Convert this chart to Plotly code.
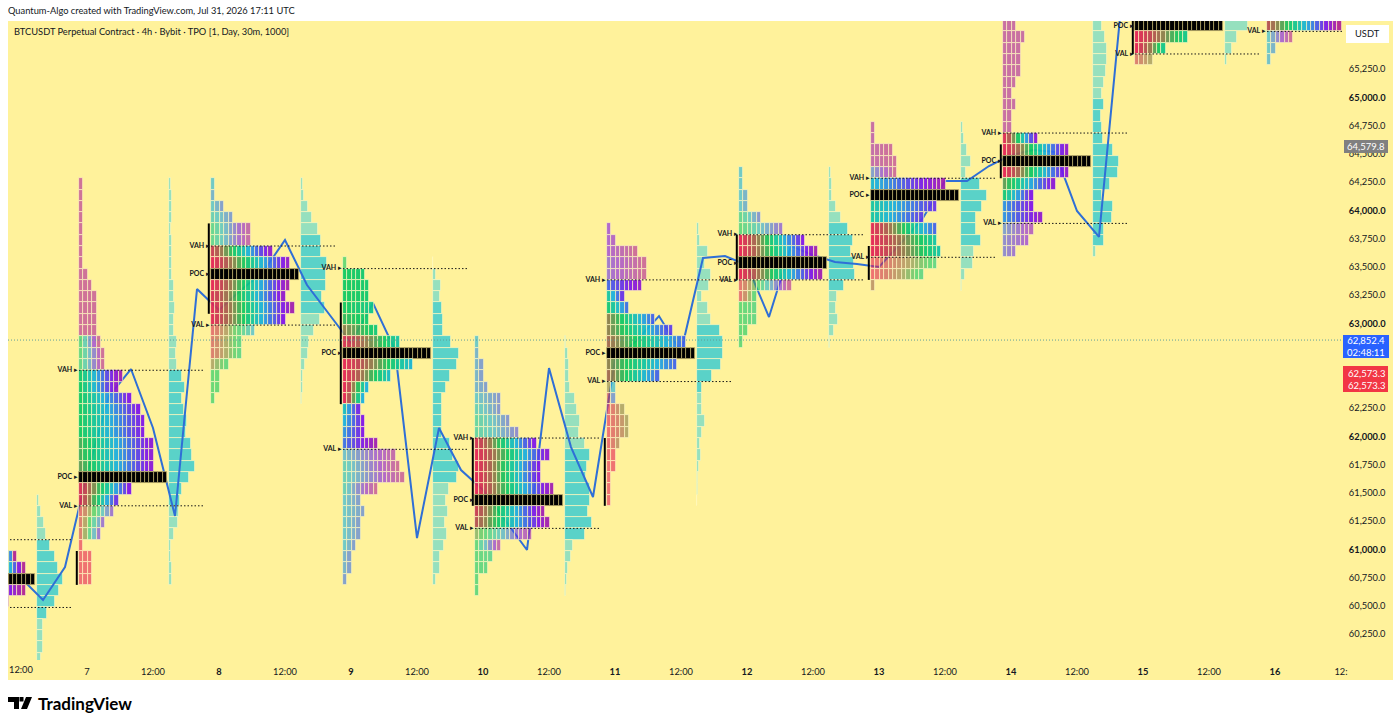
import plotly.graph_objects as go

# Session days and the top row (centre price) of each profile
days = [6, 7, 8, 9, 10, 11, 12, 13, 14, 15, 16]
tops = [61450, 64250, 64250, 63550, 62850, 63850, 64350, 64750, 65650, 65650, 65650]

# TPO counts per row, top to bottom
tpo_06 = [0, 0, 0, 0, 0, 16, 18, 20, 18, 14, 0, 0, 0, 0, 0]
tpo_07 = [1, 1, 1, 1, 1, 1, 1, 1, 2, 3, 4, 4, 4, 4, 5, 6, 6, 10, 9, 12, 14, 15, 15, 17, 17, 17, 20, 12, 9, 8, 6, 5, 1, 3, 3, 3]
tpo_08 = [1, 1, 3, 5, 9, 9, 14, 18, 20, 18, 17, 19, 17, 10, 7, 7, 4, 2, 2, 1]
tpo_09 = [1, 5, 6, 6, 7, 6, 8, 13, 20, 16, 11, 6, 5, 4, 5, 5, 8, 12, 13, 14, 8, 4, 5, 4, 4, 3, 2, 2, 1]
tpo_10 = [1, 1, 2, 2, 3, 6, 6, 8, 10, 14, 17, 15, 15, 18, 20, 16, 17, 13, 6, 4, 3, 1, 1]
tpo_11 = [1, 2, 7, 9, 9, 8, 4, 5, 11, 15, 18, 20, 16, 12, 2, 2, 4, 5, 5, 3, 2, 2, 1, 1, 1]
tpo_12 = [1, 1, 2, 2, 5, 10, 15, 18, 20, 19, 12, 4, 4, 4, 2, 1]
tpo_13 = [1, 1, 5, 6, 6, 17, 20, 15, 12, 15, 15, 16, 15, 12, 1]
tpo_14 = [3, 5, 4, 4, 4, 3, 2, 3, 2, 2, 8, 15, 20, 15, 12, 7, 7, 9, 7, 6, 3]
tpo_15 = [20, 12, 7, 4]
tpo_16 = [17, 6, 2, 1]

# Volume profile per row, same rows as the TPO lists
vol_06 = [1.7, 4, 7.3, 9.3, 13, 17.7, 21.3, 25.7, 21.7, 18.3, 10, 5.7, 5.7, 5.7, 4]
vol_07 = [1.5, 2.5, 2.5, 2.5, 2, 2.5, 2.5, 2.5, 3, 4.5, 5, 6, 4.5, 5, 7.5, 7, 8.3, 12.7, 15.7, 12.7, 15, 18, 17.3, 22, 23, 25.7, 19.7, 13.3, 11.3, 10.3, 9, 5, 2, 2, 3.3, 2.7]
vol_08 = [1.7, 3.3, 6.7, 10.7, 17.3, 20, 20, 26, 25.3, 24.7, 21, 24, 18.7, 12.7, 8.3, 7.3, 4, 2.3, 2, 1]
vol_09 = [0, 3.3, 7.7, 7.3, 9.3, 10, 10, 17.7, 25.7, 24, 16.7, 13, 8.7, 9, 8.7, 8.7, 16.7, 20, 25.7, 24.3, 16, 12.7, 15.3, 12.3, 14.3, 10.7, 7.3, 6.7, 3]
vol_10 = [1, 3, 4, 4, 5, 9.7, 11.7, 15, 14, 19.7, 25, 21.7, 20.7, 25, 25, 23, 27, 20.3, 8.3, 6.3, 3.3, 1.7, 1]
vol_11 = [1.7, 3, 10.7, 7.7, 14.3, 11.7, 5.3, 11, 14.3, 23, 26, 26, 24, 15.3, 5.3, 5.3, 5, 8, 5.3, 3, 4, 2.3, 1.3, 1.3, 0.3]
vol_12 = [2.3, 2.7, 3.3, 6.7, 12, 18.7, 23.7, 21.7, 25.3, 26, 15.3, 8.3, 7.3, 8.7, 5, 1.3]
vol_13 = [1.7, 2.7, 6, 10, 5, 19, 25.7, 21, 15, 14.7, 20, 13.3, 12.3, 4.3, 0.7]
vol_14 = [8.7, 11.7, 14, 14, 13.3, 10.7, 8.7, 11.3, 8.3, 9.3, 9.7, 20.3, 25.7, 25, 16.7, 9.3, 19.7, 19, 11, 11, 3.3]
vol_15 = [23.3, 12, 7.3, 1.7]

# Period shade of the first and last block in each row (0 = session open, 1 = close)
first_06 = [0, 0, 0, 0, 0, -4, -1.27, 0, 0.15, 0.9, 0, 0, 0, 0, 0]
last_06 = [0, 0, 0, 0, 0, 1, 1, 0, 1, 0.9, 0, 0, 0, 0, 0]
first_07 = [1, 1, 1, 1, 1, 1, 1, 1, 1, 1, 1, 1, 1, 1, 0.4, 0.4, 0.42, 0.4, 0.38, 0.38, 0.38, 0.38, 0.38, 0.33, 0.33, 0.3, 0, 0.05, 0.05, 0.05, 0.1, 0.1, 0, 0, 0, 0]
last_07 = [1, 1, 1, 1, 1, 1, 1, 1, 1, 1, 1, 1, 1, 1, 1, 1, 1, 0.95, 0.9, 0.85, 0.85, 0.85, 0.85, 0.88, 0.88, 0.88, 0, 0.85, 0.8, 0.8, 0.8, 0.8, 0, 0, 0, 0]
first_08 = [0.6, 0.65, 0.6, 0.55, 0.45, 0.45, 0.1, 0, 0, 0, 0.05, 0.02, 0.02, 0.05, 0.1, 0.1, 0.25, 0.38, 0.38, 0.38]
last_08 = [0.6, 0.65, 0.7, 0.7, 0.95, 0.95, 0.9, 0.9, 0, 0.95, 0.9, 0.95, 0.85, 0.6, 0.42, 0.42, 0.4, 0.38, 0.38, 0.38]
first_09 = [0.38, 0.38, 0.38, 0.38, 0.38, 0.35, 0.25, 0.05, 0, 0, 0, 0, 0, 0.55, 0.6, 0.65, 0.7, 0.62, 0.55, 0.55, 0.55, 0.6, 0.6, 0.6, 0.6, 0.6, 0.65, 0.65, 0.7]
last_09 = [0.38, 0.4, 0.4, 0.4, 0.45, 0.4, 0.42, 0.5, 0, 0.58, 0.55, 0.6, 0.6, 0.82, 0.85, 0.85, 0.95, 0.95, 1, 1, 1, 0.7, 0.7, 0.7, 0.7, 0.7, 0.7, 0.7, 0.7]
first_10 = [0.6, 0.65, 0.65, 0.65, 0.65, 0.6, 0.55, 0.5, 0.5, 0.05, 0, 0, 0, 0, 0, 0.1, 0.15, 0.3, 0.4, 0.4, 0.4, 0.4, 0.4]
last_10 = [0.6, 0.65, 0.7, 0.7, 0.7, 0.72, 0.72, 0.72, 0.75, 0.85, 0.88, 0.85, 0.85, 0.95, 0, 0.95, 0.95, 0.95, 0.95, 0.45, 0.42, 0.4, 0.4]
first_11 = [0.85, 0.85, 0.85, 0.8, 0.8, 0.72, 0.5, 0.42, 0.25, 0.25, 0.2, 0, 0.25, 0.2, 0.25, 0.1, 0, 0, 0, 0, 0, 0, 0, 0, 0]
last_11 = [0.85, 0.88, 1, 1, 1, 0.9, 0.8, 0.7, 0.72, 0.78, 0.72, 0, 0.72, 0.72, 0.6, 0.7, 0.25, 0.25, 0.25, 0.2, 0, 0, 0, 0, 0]
first_12 = [0.6, 0.6, 0.6, 0.6, 0.45, 0.4, 0, 0, 0, 0, 0.05, 0.05, 0.38, 0.38, 0.38, 0.38]
last_12 = [0.6, 0.6, 0.65, 0.65, 0.72, 0.8, 0.85, 0.95, 0, 0.95, 1, 0.4, 0.42, 0.42, 0.38, 0.38]
first_13 = [0.97, 0.95, 0.95, 0.95, 0.7, 0.58, 0, 0.5, 0.5, 0.02, 0, 0, 0, 0, 0.2]
last_13 = [0.97, 0.95, 1, 1, 1, 0.95, 0, 0.8, 0.78, 0.72, 0.5, 0.5, 0.42, 0.42, 0.2]
first_14 = [0.97, 0.97, 0.97, 0.97, 0.97, 0.97, 0.97, 0.97, 0.97, 0.97, 0.03, 0, 0, 0, 0.3, 0.42, 0.65, 0.65, 0.7, 0.75, 0.75]
last_14 = [0.97, 0.97, 0.97, 0.97, 0.97, 0.97, 0.97, 0.97, 0.97, 0.97, 0.88, 0.9, 0, 0.9, 0.88, 0.85, 0.85, 0.9, 0.9, 0.85, 0.8]
first_15 = [0, 0, 0, 0.1]
last_15 = [0, 0.45, 0.45, 0.25]
first_16 = [0.15, 0.6, 0.6, 0.62]
last_16 = [1, 1, 0.65, 0.62]

# Value area, point of control and initial balance levels per session
vah = [61100, 62600, 63700, 63500, 62000, 63400, 63800, 64300, 64700, None, None]
val = [60500, 61400, 63000, 61900, 61200, 62500, 63400, 63600, 63900, 65400, 65600]
poc = [60750, 61650, 63450, 62750, 61450, 62750, 63550, 64150, 64450, 65650, None]
ib_high = [None, 61000, 63900, 63200, 62000, 62000, 63800, 63700, 64600, 65800, None]
ib_low = [None, 60700, 63100, 62300, 61400, 61400, 63400, 63400, 64300, 65400, None]

# Rows where the volume profile is drawn in the strong colour
vol_high = [61050, 62550, 63750, 63150, 61850, 62950, 63850, 64250, 64950, 0, 0]
vol_low = [60450, 61450, 63150, 61650, 61150, 62450, 63350, 63750, 63750, 0, 0]

# 4h closes, first one at 12:00 on the 6th
closes = [60746, 60551, 60843, 61666, 62357, 62596, 62074, 61295, 63304, 63118, 63295, 63455, 63738,
          63340, 63083, 62826, 63180, 62764, 61100, 62074, 61702, 61525, 61259, 60994, 62605, 61905,
          61463, 62676, 62853, 63065, 62746, 63579, 63596, 63517, 63056, 63685, 63605, 63543, 63525,
          63499, 63712, 63933, 64260, 64260, 64393, 64490, 64535, 64517, 63995, 63765, 65800, 65900]
last_price = 62852.4

price_ticks = list(range(60250, 65500, 250))
hidden_ticks = [62500, 62750]  # sit behind the price boxes in the original
time_ticks = [6.5, 7, 7.5, 8, 8.5, 9, 9.5, 10, 10.5, 11, 11.5, 12, 12.5, 13, 13.5, 14, 14.5, 15, 15.5, 16, 16.5]

tpo_rows = [tpo_06, tpo_07, tpo_08, tpo_09, tpo_10, tpo_11, tpo_12, tpo_13, tpo_14, tpo_15, tpo_16]
vol_rows = [vol_06, vol_07, vol_08, vol_09, vol_10, vol_11, vol_12, vol_13, vol_14, vol_15, []]
first_rows = [first_06, first_07, first_08, first_09, first_10, first_11, first_12, first_13, first_14, first_15, first_16]
last_rows = [last_06, last_07, last_08, last_09, last_10, last_11, last_12, last_13, last_14, last_15, last_16]

YELLOW = "#FFF29B"
DARK = "#131722"
FONT = "Lato"
BLOCK = 1 / 30      # one TPO block on the time axis
VOL_UNIT = 1 / 132  # volume list units on the time axis
OPEN_SHIFT = 8 / 132
VOL_SHIFT = 90 / 132
LEVEL_LEN = 126 / 132
ROW = 100
ROW_NUDGE = -15     # profiles sit a little under the price scale in the original

# shade -> colour for the TPO letters
shades = [
    (0.00, (228, 30, 85)), (0.12, (190, 60, 80)), (0.25, (135, 125, 75)), (0.38, (10, 200, 95)),
    (0.50, (12, 195, 165)), (0.60, (20, 175, 225)), (0.72, (60, 95, 235)), (0.85, (125, 15, 235)),
    (1.00, (175, 30, 150)),
]


def shade_color(s, alpha):
    s = max(0, min(1, s))
    for (a, c0), (b, c1) in zip(shades, shades[1:]):
        if s <= b:
            t = (s - a) / (b - a)
            rgb = [round(u + (v - u) * t) for u, v in zip(c0, c1)]
            break
    return f"rgba({rgb[0]},{rgb[1]},{rgb[2]},{alpha})"


# Build one list of blocks and one list of volume bars for all sessions
blk_y, blk_base, blk_color, blk_line = [], [], [], []
vbar_y, vbar_x, vbar_base, vbar_color = [], [], [], []
for i, day in enumerate(days):
    start = day - OPEN_SHIFT
    for r, n in enumerate(tpo_rows[i]):
        price = tops[i] - r * ROW
        is_poc = price == poc[i]
        in_va = vah[i] is not None and val[i] < price < vah[i]
        if vah[i] is None and val[i] < price:
            in_va = True
        for k in range(n):
            f, l = first_rows[i][r], last_rows[i][r]
            s = f + (l - f) * k / max(n - 1, 1)
            blk_y.append(price + ROW_NUDGE)
            blk_base.append(start + k * BLOCK)
            if is_poc:
                blk_color.append("#000000")
                blk_line.append("rgba(190,175,110,0.9)")
            else:
                blk_color.append(shade_color(s, 0.92 if in_va else 0.6))
                blk_line.append("rgba(255,248,190,0.85)")
    for r, v in enumerate(vol_rows[i]):
        price = tops[i] - r * ROW
        vbar_y.append(price + ROW_NUDGE)
        vbar_x.append(v * VOL_UNIT)
        vbar_base.append(start + VOL_SHIFT)
        vbar_color.append("#5AD2C8" if vol_low[i] <= price <= vol_high[i] else "#96E0BE")

fig = go.Figure()

# Volume profile and the close line sit under the TPO blocks
fig.add_trace(go.Bar(
    orientation="h", y=vbar_y, x=vbar_x, base=vbar_base, width=ROW,
    marker=dict(color=vbar_color, line=dict(color="rgba(255,248,190,0.85)", width=0.8)),
    hoverinfo="skip", showlegend=False,
))
fig.add_trace(go.Scatter(
    x=[6.5 + n / 6 for n in range(len(closes))], y=closes, mode="lines",
    line=dict(color="#2F6FD6", width=2), hoverinfo="skip", showlegend=False,
))

# TPO blocks on an overlaid axis pair so they cover the line
fig.add_trace(go.Bar(
    orientation="h", y=blk_y, x=[BLOCK] * len(blk_y), base=blk_base, width=ROW,
    marker=dict(color=blk_color, line=dict(color=blk_line, width=0.8)),
    xaxis="x2", yaxis="y2", hoverinfo="skip", showlegend=False,
))

# Initial balance bars
ib_x, ib_y = [], []
for day, hi, lo in zip(days, ib_high, ib_low):
    if hi is not None:
        x = day - OPEN_SHIFT - BLOCK / 2
        ib_x += [x, x, None]
        ib_y += [hi + ROW_NUDGE, lo + ROW_NUDGE, None]
fig.add_trace(go.Scatter(
    x=ib_x, y=ib_y, mode="lines", line=dict(color="#000000", width=2),
    xaxis="x2", yaxis="y2", hoverinfo="skip", showlegend=False,
))

# VAH / VAL dotted levels
lvl_x, lvl_y = [], []
for day, hi, lo in zip(days, vah, val):
    for level in (hi, lo):
        if level is not None:
            lvl_x += [day - OPEN_SHIFT, day - OPEN_SHIFT + LEVEL_LEN, None]
            lvl_y += [level + ROW_NUDGE, level + ROW_NUDGE, None]
fig.add_trace(go.Scatter(
    x=lvl_x, y=lvl_y, mode="lines", line=dict(color="#1a1a1a", width=1, dash="1.5px,2px"),
    xaxis="x2", yaxis="y2", hoverinfo="skip", showlegend=False,
))

# Level labels
lab_x, lab_y, lab_t = [], [], []
for day, hi, mid, lo in zip(days, vah, poc, val):
    for name, level in (("VAH", hi), ("POC", mid), ("VAL", lo)):
        if level is not None and day > 6:
            lab_x.append(day - OPEN_SHIFT - 0.008)
            lab_y.append(level + ROW_NUDGE)
            lab_t.append(f"<b>{name}</b> ▸")
fig.add_trace(go.Scatter(
    x=lab_x, y=lab_y, text=lab_t, mode="text", textposition="middle left",
    textfont=dict(family=FONT, size=7, color=DARK),
    xaxis="x2", yaxis="y2", hoverinfo="skip", showlegend=False,
))

# Last price dotted line
fig.add_trace(go.Scatter(
    x=[6.4015, 16.5076], y=[last_price, last_price], mode="lines",
    line=dict(color="#5f9e9a", width=1, dash="1px,2px"),
    xaxis="x2", yaxis="y2", hoverinfo="skip", showlegend=False,
))


# These take picture pixels
def px(x):
    return (x - 8) / 1334


def py(y):
    return (660 - y) / 639


def box(x0, y0, x1, y1, color):
    return dict(type="rect", xref="paper", yref="paper", x0=px(x0), x1=px(x1), y0=py(y0), y1=py(y1),
                fillcolor=color, line=dict(width=0), layer="above")


def label(x, y, text, color=DARK, size=9.3, anchor="left", family=FONT):
    return dict(xref="paper", yref="paper", x=px(x), y=py(y), text=text, showarrow=False, xanchor=anchor,
                yanchor="middle", font=dict(family=family, size=size, color=color))


price_text = []
for p in price_ticks:
    if p in hidden_ticks:
        price_text.append("")
    elif p % 1000 == 0:
        price_text.append(f"<b>{p:,.1f}</b>")
    else:
        price_text.append(f"{p:,.1f}")

time_text = []
for t in time_ticks:
    if t == 6.5:
        time_text.append("")  # drawn as an annotation, plotly drops it at the edge
    elif t % 1:
        time_text.append("12:00" if t < 16.5 else "12:")
    elif t == 7:
        time_text.append("7")
    else:
        time_text.append(f"<b>{int(t)}</b>")

shapes = [
    dict(type="rect", xref="paper", yref="paper", x0=0, x1=px(1393), y0=py(680), y1=1,
         fillcolor=YELLOW, line=dict(width=0), layer="below"),
    box(1346, 25, 1389, 43, "#FFFFFF"),
    box(1344, 140, 1388, 153, "#808080"),
    box(1343, 335, 1389, 358, "#2962FF"),
    box(1343, 366, 1388, 392, "#F23645"),
    dict(type="path", xref="paper", yref="paper", fillcolor="#000000", line=dict(width=0),
         path=(f"M {px(8)} {py(697)} L {px(19)} {py(697)} L {px(19)} {py(709)} L {px(14)} {py(709)} "
               f"L {px(14)} {py(702)} L {px(8)} {py(702)} Z "
               f"M {px(26)} {py(697)} L {px(32)} {py(697)} L {px(27)} {py(709)} L {px(21)} {py(709)} Z "
               f"M {px(19.5)} {py(697)} L {px(23.5)} {py(697)} L {px(23.5)} {py(701.5)} L {px(19.5)} {py(701.5)} Z")),
]

annotations = [
    label(6, 11, "Quantum-Algo created with TradingView.com, Jul 31, 2026 17:11 UTC"),
    label(12, 31, "BTCUSDT Perpetual Contract · 4h · Bybit · TPO [1, Day, 30m, 1000]"),
    label(21, 669, "12:00", anchor="center"),
    label(1367.5, 34, "USDT", anchor="center"),
    label(1366, 146.5, "64,579.8", color="#FFFFFF", anchor="center", size=9.5),
    label(1366, 346.5, "62,852.4<br>02:48:11", color="#FFFFFF", anchor="center", size=9.5),
    label(1366, 379, "62,573.3<br>62,573.3", color="#FFFFFF", anchor="center", size=9.5),
    label(36, 703, "<b>TradingView</b>", color="#000000", size=17),
]

x_range = [6.4015, 16.5076]
y_range = [60020, 65677]
fig.update_layout(
    width=1400,
    height=726,
    autosize=False,
    margin=dict(l=8, r=58, t=21, b=66),
    paper_bgcolor="#FFFFFF",
    plot_bgcolor=YELLOW,
    barmode="overlay",
    bargap=0,
    showlegend=False,
    font=dict(family=FONT, size=9.3, color=DARK),
    xaxis=dict(range=x_range, tickmode="array", tickvals=time_ticks, ticktext=time_text, showgrid=False,
               zeroline=False, showline=False, ticks="outside", ticklen=3, tickcolor="rgba(0,0,0,0)",
               tickfont=dict(family=FONT, size=9.3, color=DARK)),
    yaxis=dict(range=y_range, side="right", tickmode="array", tickvals=price_ticks, ticktext=price_text,
               showgrid=False, zeroline=False, showline=False, ticks="outside", ticklen=4,
               tickcolor="rgba(0,0,0,0)", tickfont=dict(family=FONT, size=9.3, color=DARK)),
    xaxis2=dict(range=x_range, overlaying="x", visible=False),
    yaxis2=dict(range=y_range, overlaying="y", visible=False),
    shapes=shapes,
    annotations=annotations,
)

# The page body's default margin would push the figure 8px in
fig.write_html("out.html", config={"displayModeBar": False}, post_script="document.body.style.margin = '0';")
